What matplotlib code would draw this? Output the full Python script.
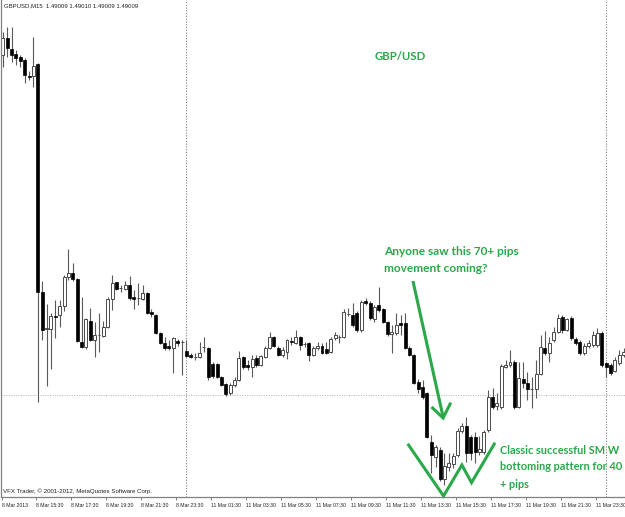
import numpy as np
import matplotlib
matplotlib.use('Agg')
import matplotlib.pyplot as plt

# GBPUSD M15, one entry per bar, first bar = 8 Mar 2013 13:30
opens = [1.50710, 1.50795, 1.50740, 1.50715, 1.50700, 1.50685, 1.50605, 1.50605, 1.50665, 1.49525,
         1.49340, 1.49340, 1.49405, 1.49410, 1.49455, 1.49600, 1.49620, 1.49590, 1.49275, 1.49250,
         1.49380, 1.49285, 1.49310, 1.49305, 1.49350, 1.49490, 1.49575, 1.49545, 1.49540, 1.49560,
         1.49500, 1.49495, 1.49490, 1.49520, 1.49425, 1.49410, 1.49320, 1.49270, 1.49255, 1.49245,
         1.49280, 1.49275, 1.49230, 1.49210, 1.49200, 1.49200, 1.49250, 1.49245, 1.49165, 1.49165,
         1.49100, 1.49065, 1.49020, 1.49060, 1.49085, 1.49200, 1.49160, 1.49150, 1.49195, 1.49160,
         1.49200, 1.49245, 1.49300, 1.49245, 1.49210, 1.49225, 1.49280, 1.49270, 1.49300, 1.49265,
         1.49270, 1.49210, 1.49245, 1.49255, 1.49240, 1.49225, 1.49295, 1.49300, 1.49300, 1.49415,
         1.49410, 1.49420, 1.49335, 1.49480, 1.49470, 1.49390, 1.49460, 1.49440, 1.49375, 1.49315,
         1.49320, 1.49370, 1.49370, 1.49245, 1.49210, 1.49075, 1.49050, 1.49020, 1.48775, 1.48700,
         1.48735, 1.48590, 1.48650, 1.48665, 1.48710, 1.48830, 1.48855, 1.48800, 1.48800, 1.48725,
         1.48725, 1.48835, 1.49000, 1.48955, 1.48950, 1.49150, 1.49160, 1.49175, 1.48950, 1.49090,
         1.49070, 1.49040, 1.49040, 1.49115, 1.49245, 1.49220, 1.49285, 1.49325, 1.49400, 1.49335,
         1.49395, 1.49290, 1.49275, 1.49220, 1.49255, 1.49260, 1.49260, 1.49320, 1.49170, 1.49160,
         1.49130, 1.49170, 1.49210]

highs = [1.50825, 1.50850, 1.50850, 1.50735, 1.50710, 1.50695, 1.50630, 1.50800, 1.50670, 1.49580,
         1.49465, 1.49420, 1.49485, 1.49485, 1.49610, 1.49740, 1.49670, 1.49595, 1.49500, 1.49395,
         1.49445, 1.49375, 1.49420, 1.49380, 1.49500, 1.49610, 1.49575, 1.49560, 1.49580, 1.49605,
         1.49535, 1.49570, 1.49560, 1.49525, 1.49440, 1.49415, 1.49325, 1.49300, 1.49285, 1.49300,
         1.49290, 1.49285, 1.49285, 1.49220, 1.49220, 1.49275, 1.49300, 1.49250, 1.49175, 1.49170,
         1.49105, 1.49070, 1.49070, 1.49100, 1.49230, 1.49205, 1.49185, 1.49210, 1.49210, 1.49210,
         1.49255, 1.49325, 1.49305, 1.49255, 1.49250, 1.49290, 1.49300, 1.49335, 1.49305, 1.49275,
         1.49275, 1.49255, 1.49275, 1.49270, 1.49275, 1.49300, 1.49325, 1.49310, 1.49440, 1.49445,
         1.49470, 1.49430, 1.49485, 1.49495, 1.49480, 1.49460, 1.49550, 1.49445, 1.49380, 1.49360,
         1.49420, 1.49410, 1.49420, 1.49255, 1.49215, 1.49090, 1.49085, 1.49025, 1.48810, 1.48760,
         1.48750, 1.48720, 1.48720, 1.48720, 1.48845, 1.48870, 1.48900, 1.48810, 1.48825, 1.48805,
         1.48835, 1.49035, 1.49045, 1.49020, 1.49165, 1.49185, 1.49235, 1.49185, 1.49175, 1.49175,
         1.49125, 1.49100, 1.49185, 1.49310, 1.49330, 1.49300, 1.49350, 1.49415, 1.49410, 1.49395,
         1.49405, 1.49300, 1.49285, 1.49270, 1.49285, 1.49330, 1.49345, 1.49330, 1.49175, 1.49170,
         1.49200, 1.49235, 1.49245]

lows = [1.50650, 1.50700, 1.50675, 1.50660, 1.50650, 1.50570, 1.50585, 1.50550, 1.48975, 1.49285,
        1.49055, 1.49140, 1.49295, 1.49350, 1.49430, 1.49585, 1.49580, 1.49275, 1.49245, 1.49240,
        1.49280, 1.49200, 1.49225, 1.49300, 1.49345, 1.49435, 1.49535, 1.49525, 1.49535, 1.49485,
        1.49440, 1.49460, 1.49485, 1.49415, 1.49400, 1.49315, 1.49265, 1.49235, 1.49235, 1.49120,
        1.49255, 1.49110, 1.49200, 1.49195, 1.49185, 1.49195, 1.49225, 1.49085, 1.49095, 1.49095,
        1.49055, 1.49005, 1.49010, 1.49050, 1.49080, 1.49140, 1.49135, 1.49100, 1.49150, 1.49155,
        1.49195, 1.49240, 1.49250, 1.49205, 1.49200, 1.49190, 1.49260, 1.49265, 1.49235, 1.49250,
        1.49180, 1.49205, 1.49235, 1.49215, 1.49215, 1.49220, 1.49285, 1.49270, 1.49295, 1.49405,
        1.49350, 1.49325, 1.49325, 1.49460, 1.49385, 1.49375, 1.49425, 1.49370, 1.49305, 1.49220,
        1.49310, 1.49310, 1.49240, 1.49205, 1.49065, 1.49020, 1.48990, 1.48795, 1.48620, 1.48650,
        1.48580, 1.48560, 1.48630, 1.48645, 1.48700, 1.48820, 1.48675, 1.48685, 1.48670, 1.48710,
        1.48715, 1.48825, 1.48940, 1.48935, 1.48940, 1.49145, 1.49150, 1.48940, 1.48945, 1.49045,
        1.48985, 1.48945, 1.48995, 1.49110, 1.49210, 1.49175, 1.49275, 1.49320, 1.49320, 1.49330,
        1.49285, 1.49260, 1.49210, 1.49210, 1.49245, 1.49250, 1.49250, 1.49150, 1.49100, 1.49110,
        1.49125, 1.49160, 1.49200]

closes = [1.50795, 1.50745, 1.50710, 1.50695, 1.50680, 1.50610, 1.50600, 1.50655, 1.49525, 1.49335,
          1.49345, 1.49405, 1.49400, 1.49455, 1.49600, 1.49620, 1.49590, 1.49280, 1.49250, 1.49390,
          1.49285, 1.49310, 1.49310, 1.49350, 1.49490, 1.49570, 1.49540, 1.49545, 1.49560, 1.49495,
          1.49490, 1.49495, 1.49520, 1.49420, 1.49415, 1.49320, 1.49270, 1.49245, 1.49245, 1.49295,
          1.49270, 1.49275, 1.49205, 1.49200, 1.49200, 1.49220, 1.49250, 1.49100, 1.49105, 1.49100,
          1.49060, 1.49015, 1.49060, 1.49085, 1.49195, 1.49150, 1.49150, 1.49190, 1.49160, 1.49205,
          1.49245, 1.49300, 1.49255, 1.49210, 1.49235, 1.49285, 1.49275, 1.49300, 1.49260, 1.49265,
          1.49210, 1.49245, 1.49255, 1.49220, 1.49220, 1.49290, 1.49310, 1.49300, 1.49425, 1.49415,
          1.49360, 1.49335, 1.49475, 1.49470, 1.49395, 1.49450, 1.49435, 1.49375, 1.49315, 1.49325,
          1.49360, 1.49360, 1.49245, 1.49210, 1.49070, 1.49040, 1.49000, 1.48800, 1.48710, 1.48750,
          1.48590, 1.48655, 1.48670, 1.48705, 1.48830, 1.48855, 1.48720, 1.48720, 1.48725, 1.48740,
          1.48825, 1.49000, 1.48950, 1.48970, 1.49155, 1.49160, 1.49175, 1.48950, 1.49095, 1.49070,
          1.49040, 1.49040, 1.49115, 1.49250, 1.49220, 1.49270, 1.49325, 1.49395, 1.49335, 1.49390,
          1.49295, 1.49270, 1.49220, 1.49255, 1.49270, 1.49310, 1.49320, 1.49160, 1.49150, 1.49120,
          1.49185, 1.49210, 1.49225]

tick_bars = [0, 8, 16, 24, 32, 40, 48, 56, 64, 72, 80, 88, 96, 104, 112, 120, 128, 136]
tick_labels = ['8 Mar 2013', '8 Mar 15:30', '8 Mar 17:30', '8 Mar 19:30', '8 Mar 21:30',
               '8 Mar 23:30', '11 Mar 01:30', '11 Mar 03:30', '11 Mar 05:30', '11 Mar 07:30',
               '11 Mar 09:30', '11 Mar 11:30', '11 Mar 13:30', '11 Mar 15:30', '11 Mar 17:30',
               '11 Mar 19:30', '11 Mar 21:30', '11 Mar 23:30']
day_breaks = [42, 138]      # first bars of 11 Mar and 12 Mar
bid_line = 1.49010
header = 'GBPUSD,M15  1.49009 1.49010 1.49009 1.49009'
footer = 'VFX Trader, \u00a9 2001-2012, MetaQuotes Software Corp.'

GREEN = '#2aa84a'
SMALL = ['Liberation Sans', 'DejaVu Sans']

W, H = 625, 517
BAR_PX = 4.378           # horizontal pixels per bar

fig = plt.figure(figsize=(W / 100, H / 100), dpi=100)
ax_left, ax_bottom = 1.5, 497
ax = fig.add_axes([ax_left / W, (H - ax_bottom) / H, (W - ax_left) / W, ax_bottom / H])

o, h, l, c = (np.array(v) for v in (opens, highs, lows, closes))
x = np.arange(len(o))
up = c >= o

ax.vlines(x, l, h, color='#5a5a5a', lw=0.8, zorder=1)
ax.bar(x[up], c[up] - o[up], bottom=o[up], width=0.68, color='white',
       edgecolor='#4a4a4a', linewidth=0.7, zorder=2)
ax.bar(x[~up], o[~up] - c[~up], bottom=c[~up], width=0.68, color='black',
       edgecolor='black', linewidth=0.5, zorder=2)

for b in day_breaks:
    ax.axvline(b, color='#808080', lw=0.8, ls=(0, (1, 1.5)), zorder=0)
ax.axhline(bid_line, color='#b0b0b0', lw=0.7, ls=(0, (1, 1.5)), zorder=0)

x0 = -(2.0 - ax_left) / BAR_PX
ax.set_xlim(x0, x0 + (W - ax_left) / BAR_PX)
ax.set_ylim(1.48500, 1.50985)
ax.set_yticks([])

ax.set_xticks([t - 0.3 for t in tick_bars])
ax.set_xticklabels(tick_labels, ha='left', family=SMALL, fontsize=3.7, color='#222222')
ax.tick_params(axis='x', length=2.5, width=0.7, color='#808080', pad=1.8)

for s in ('top', 'right'):
    ax.spines[s].set_visible(False)
for s in ('left', 'bottom'):
    ax.spines[s].set_color('#808080')
    ax.spines[s].set_linewidth(0.9)

# hand-drawn arrow and W
ax.plot([93.8, 100.7], [1.49580, 1.48900], color=GREEN, lw=2.2, solid_capstyle='butt')
ax.plot([98.3, 100.7, 102.3], [1.48945, 1.48895, 1.48965], color=GREEN, lw=2.2,
        solid_joinstyle='miter')
ax.plot([92.8, 100.8, 105.0, 107.2, 112.4], [1.48760, 1.48505, 1.48660, 1.48572, 1.48765],
        color=GREEN, lw=2.2, solid_joinstyle='miter', clip_on=False)


def px(xp, yp):
    return xp / W, 1 - yp / H


fig.text(*px(4, 6), header, family=SMALL, fontsize=4.3, color='#222222', va='center')
fig.text(*px(3, 491.5), footer, family=SMALL, fontsize=4.4, color='#222222', va='center')

note = dict(family=['Lato', 'DejaVu Sans'], fontweight='bold', color=GREEN,
            va='center', ha='left')
fig.text(*px(375, 57), 'GBP/USD', fontsize=8.2, **note)
fig.text(*px(384, 251), 'Anyone saw this 70+ pips', fontsize=8.6, **note)
fig.text(*px(384, 268), 'movement coming?', fontsize=8.6, **note)
fig.text(*px(500, 450), 'Classic successful SM W', fontsize=7.9, **note)
fig.text(*px(500, 467), 'bottoming pattern for 40', fontsize=7.9, **note)
fig.text(*px(500, 484), '+ pips', fontsize=7.9, **note)

fig.savefig('out.png', dpi=100, facecolor='white')
